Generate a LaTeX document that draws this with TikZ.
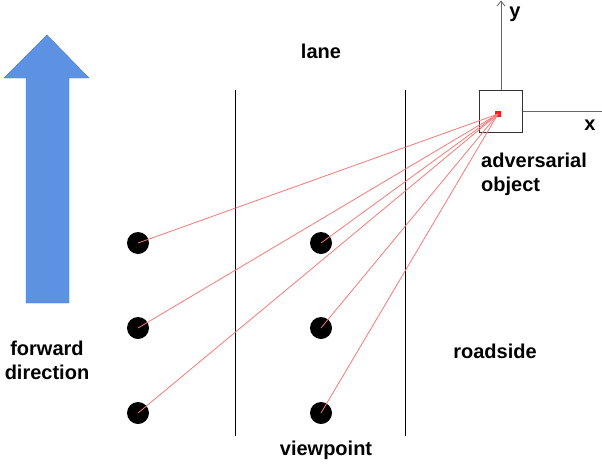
\documentclass[tikz,border=0pt]{standalone}
\usepackage{fontspec}
\setmainfont{Liberation Sans}
\usetikzlibrary{arrows.meta}
\definecolor{arrowblue}{RGB}{93,145,226}
\definecolor{raycol}{RGB}{250,120,120}
\begin{document}
\begin{tikzpicture}[x=1pt,y=-1pt,
  lbl/.style={font=\fontsize{20}{24}\selectfont\bfseries, inner sep=0pt, align=center},
  dot/.style={circle, fill=black, minimum size=22pt, inner sep=0pt},
  ray/.style={raycol, line width=0.8pt},
  laneline/.style={black, line width=0.8pt},
  axis/.style={gray!80!black, line width=0.8pt}]
\useasboundingbox (0,0) rectangle (602,466);
% forward arrow
\fill[arrowblue, draw=arrowblue!85!black, line width=0.4pt]
  (47,35) -- (89,78) -- (69,78) -- (69,303) -- (26,303) -- (26,78) -- (4,78) -- cycle;
% lane lines
\coordinate (l1t) at (235,90); \coordinate (l1b) at (235,436);
\coordinate (l2t) at (405,90); \coordinate (l2b) at (405,436);
\draw[laneline] (l1t) -- (l1b);
\draw[laneline] (l2t) -- (l2b);
% object box and axes
\node[draw=black!80, line width=1pt, minimum width=43pt, minimum height=42pt, inner sep=0pt] (box) at (500.5,111) {};
\coordinate (obj) at (498,114);
\coordinate (ytip) at (501,0.5);
\coordinate (xend) at (602,111);
\draw[axis, -{Straight Barb[length=5pt,width=8pt]}] (box.north -| ytip) -- (ytip);
\draw[axis] (box.east) -- (xend);
\fill[red!90] (obj) ++(-3,-3) rectangle ++(6,6);
% dots
\node[dot] (d1) at (138,243) {};
\node[dot] (d2) at (138,328) {};
\node[dot] (d3) at (138,413) {};
\node[dot] (d4) at (321,243) {};
\node[dot] (d5) at (321,328) {};
\node[dot] (d6) at (321,413) {};
\foreach \d in {d1,d2,d3,d4,d5,d6}{\draw[ray] (obj) -- (\d.center);}
% labels
\node[lbl] (ylab) at (515,14) {y};
\node[lbl] (xlab) at (590,125) {x};
\node[lbl] (lane) at (321,51) {lane};
\node[lbl, anchor=west, align=left] (adv) at (481,174) {adversarial\\object};
\node[lbl] (fwd) at (47,360) {forward\\direction};
\node[lbl] (road) at (495,351) {roadside};
\node[lbl] (view) at (326,450) {viewpoint};
\end{tikzpicture}
\end{document}
